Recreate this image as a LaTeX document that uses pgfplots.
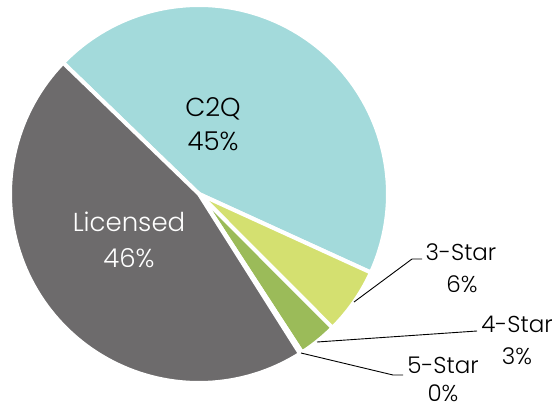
\documentclass[border=0pt]{standalone}
\usepackage{pgfplots}
\usepackage{pgfplotstable}
\pgfplotsset{compat=1.18}
\usepackage{fontspec}
\setmainfont{Poppins Light}
\definecolor{slice0}{HTML}{A3DADB}
\definecolor{slice1}{HTML}{D4E070}
\definecolor{slice2}{HTML}{9BBB59}
\definecolor{slice3}{HTML}{4F6228}
\definecolor{slice4}{HTML}{6D6B6C}
\pgfplotstableread{
label value
C2Q 44.6
3-Star 5.7
4-Star 3.3
5-Star 0.2
Licensed 46.2
}\piedata
\begin{document}
\begin{tikzpicture}
\useasboundingbox (0,0) rectangle (553pt,409pt);
\begin{axis}[
  width=553pt, height=409pt, scale only axis,
  xmin=0, xmax=553, ymin=0, ymax=409, y dir=reverse,
  hide axis, clip=false, anchor=south west, at={(0,0)}]
\def\cum{136}
\pgfplotsforeachungrouped \i in {0,...,4}{%
  \pgfplotstablegetelem{\i}{value}\of\piedata
  \let\v\pgfplotsretval
  \pgfmathsetmacro\a{\cum}
  \pgfmathsetmacro\b{\cum-3.6*\v}
  \edef\tmp{\noexpand\addplot[fill=slice\i, draw=white, line width=4pt, line join=round, domain=\b:\a, samples=90, variable=\noexpand\t] ({199+189*cos(\noexpand\t)},{194-189*sin(\noexpand\t)}) -- (axis cs:199,194) -- cycle;}
  \tmp
  \global\let\cum\b
}
% inner labels
\node[anchor=base, font=\fontsize{26}{30}\selectfont, text=black] at (axis cs:213,117) {C2Q};
\node[anchor=base, font=\fontsize{26}{30}\selectfont, text=black] at (axis cs:213,150) {45\%};
\node[anchor=base, font=\fontsize{26}{30}\selectfont, text=white] at (axis cs:129,231) {Licensed};
\node[anchor=base, font=\fontsize{26}{30}\selectfont, text=white] at (axis cs:129,267) {46\%};
% leader lines
\draw[black, line width=0.9pt] (axis cs:354,302) -- (axis cs:412,259) -- (axis cs:422,259);
\draw[black, line width=0.9pt] (axis cs:317,342) -- (axis cs:477,331);
\draw[black, line width=0.9pt] (axis cs:301,353) -- (axis cs:393,375) -- (axis cs:403,375);
% outer labels
\node[anchor=base, font=\fontsize{23}{27}\selectfont] at (axis cs:461,260) {3-Star};
\node[anchor=base, font=\fontsize{23}{27}\selectfont] at (axis cs:462,292) {6\%};
\node[anchor=base, font=\fontsize{23}{27}\selectfont] at (axis cs:517,332) {4-Star};
\node[anchor=base, font=\fontsize{23}{27}\selectfont] at (axis cs:517,364) {3\%};
\node[anchor=base, font=\fontsize{23}{27}\selectfont] at (axis cs:443,373) {5-Star};
\node[anchor=base, inner sep=0pt, font=\fontsize{23}{27}\selectfont] at (axis cs:443,401) {0\%};
\end{axis}
\end{tikzpicture}
\end{document}
